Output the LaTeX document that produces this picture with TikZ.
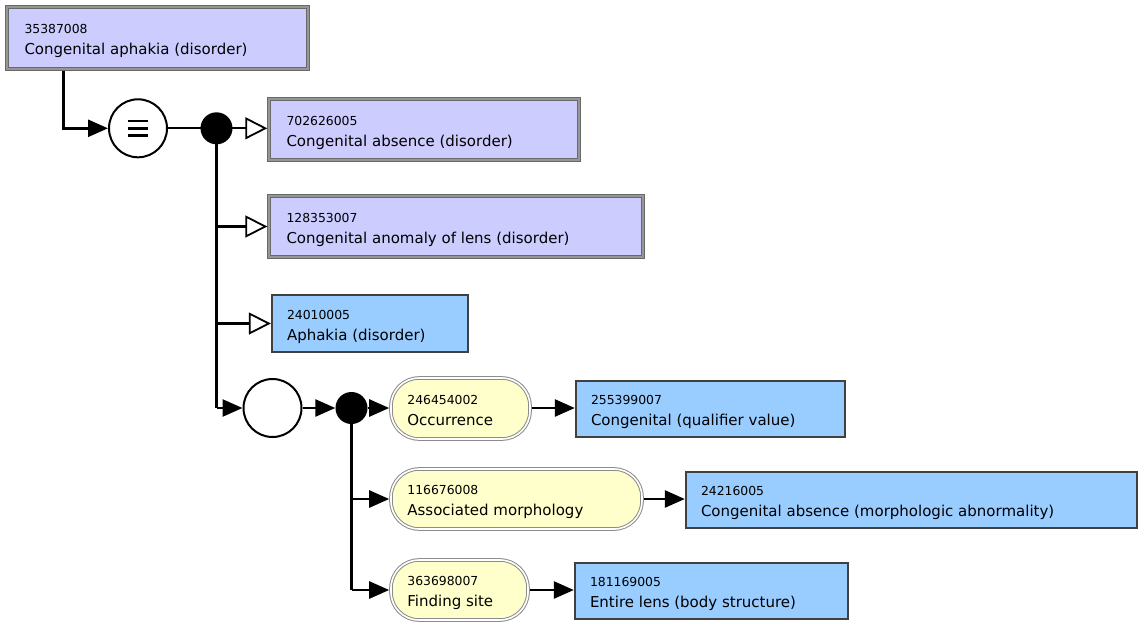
\documentclass[tikz,border=0pt]{standalone}
\usepackage{fontspec}
\setmainfont{DejaVu Sans}
\usetikzlibrary{arrows.meta}
\definecolor{defcol}{RGB}{204,204,255}
\definecolor{primcol}{RGB}{153,204,255}
\definecolor{attrcol}{RGB}{255,255,204}
\definecolor{bandedge}{RGB}{105,105,105}
\definecolor{bandmid}{RGB}{150,150,150}
\tikzset{
  defbox/.style={rectangle, draw=bandedge, double=bandmid, double distance=1.6pt,
    line width=0.9pt, fill=defcol, outer sep=1.7pt, inner sep=0pt},
  primbox/.style={rectangle, draw=black!75, line width=2.4pt, fill=primcol,
    outer sep=1.2pt, inner sep=0pt},
  attrbox/.style={rectangle, rounded corners=28pt, draw=black!45, double=white,
    double distance=1.6pt, line width=1pt, fill=attrcol, outer sep=1.8pt, inner sep=0pt},
  idtext/.style={anchor=base west, inner sep=0pt, font=\fontsize{12.4}{14}\selectfont},
  lbtext/.style={anchor=base west, inner sep=0pt, font=\fontsize{15}{17}\selectfont},
  conn/.style={line width=2.6pt, draw=black},
  thinconn/.style={line width=2pt, draw=black},
  solidtip/.style={-{Triangle[length=20pt,width=17pt]}},
  opentip/.style={-{Triangle[open,length=22pt,width=22pt,line width=1.8pt,fill=white]}},
  opcircle/.style={circle, draw=black, line width=2pt, fill=white, minimum size=58pt, inner sep=0pt},
  joint/.style={circle, fill=black, minimum size=32pt, inner sep=0pt},
}
% #1 name, #2 style, #3-#6 outer box x1,y1,x2,y2, #7 concept id, #8 term, #9 text indent
\newcommand\conceptbox[9]{%
  \node[#2, minimum width={#5-#3}, minimum height={#6-#4}] (#1) at ({(#3+#5)/2},{(#4+#6)/2}) {};
  \node[idtext] (#1-id) at ([shift={(#9,-4.5)}]#1.west) {#7};
  \node[lbtext] (#1-lb) at ([shift={(#9,16.5)}]#1.west) {#8};
}
\begin{document}
\begin{tikzpicture}[x=1pt,y=-1pt]
\useasboundingbox (0,0) rectangle (1139,621);

% concept boxes
\conceptbox{c1}{defbox}{7}{7}{308}{69}{35387008}{Congenital aphakia (disorder)}{19}
\conceptbox{c2}{defbox}{269}{99}{579}{160}{702626005}{Congenital absence (disorder)}{19}
\conceptbox{c3}{defbox}{269}{196}{643}{257}{128353007}{Congenital anomaly of lens (disorder)}{19}
\conceptbox{c4}{primbox}{272}{295}{468}{352}{24010005}{Aphakia (disorder)}{16}
\conceptbox{c5}{primbox}{576}{381}{845}{437}{255399007}{Congenital (qualifier value)}{16}
\conceptbox{c6}{primbox}{686}{472}{1137}{528}{24216005}{Congenital absence (morphologic abnormality)}{16}
\conceptbox{c7}{primbox}{575}{563}{848}{619}{181169005}{Entire lens (body structure)}{16}

% attribute pills
\conceptbox{a1}{attrbox}{391}{378}{530}{439}{246454002}{Occurrence}{18}
\conceptbox{a2}{attrbox}{391}{469}{642}{529}{116676008}{Associated morphology}{18}
\conceptbox{a3}{attrbox}{391}{560}{528}{620}{363698007}{Finding site}{18}

% connectors (drawn before operators so the circles sit on top)
\coordinate (d1c) at (216.5,128.3);
\coordinate (d2c) at (351.5,408);
\draw[thinconn] (138,128.3) -- (d1c);
\draw[thinconn, opentip] (d1c) -- (c2.west |- d1c);
\draw[conn] (d1c) -- (d1c |- 0,408);
\draw[conn, opentip] (d1c |- c3.west) -- (c3.west);
\draw[conn, opentip] (d1c |- c4.west) -- (c4.west);
\draw[conn] (d2c) -- (d2c |- a3.west);
\draw[conn, solidtip] (d2c |- a2.west) -- (a2.west);
\draw[conn, solidtip] (d2c |- a3.west) -- (a3.west);

% operators
\node[opcircle, path picture={
  \foreach \dy in {-7.3,0,7.3}
    \draw[line width=2.4pt] ([shift={(-10,\dy)}]path picture bounding box.center) -- ++(20,0);
}] (eq) at (138,128.3) {};
\node[joint] (d1) at (d1c) {};
\node[opcircle] (g1) at (272.5,408) {};
\node[joint] (d2) at (d2c) {};

\draw[conn, solidtip] ([xshift=58]c1.south west) |- (eq.west);
\draw[conn, solidtip] (d1c |- g1.west) -- (g1.west);
\draw[conn, solidtip] (g1.east) -- (d2.west);
\draw[conn, solidtip] (d2.east) -- (a1.west |- d2.east);
\draw[conn, solidtip] (a1.east |- d2c) -- (c5.west |- d2c);
\draw[conn, solidtip] (a2.east) -- (c6.west |- a2.east);
\draw[conn, solidtip] (a3.east) -- (c7.west |- a3.east);
\end{tikzpicture}
\end{document}
